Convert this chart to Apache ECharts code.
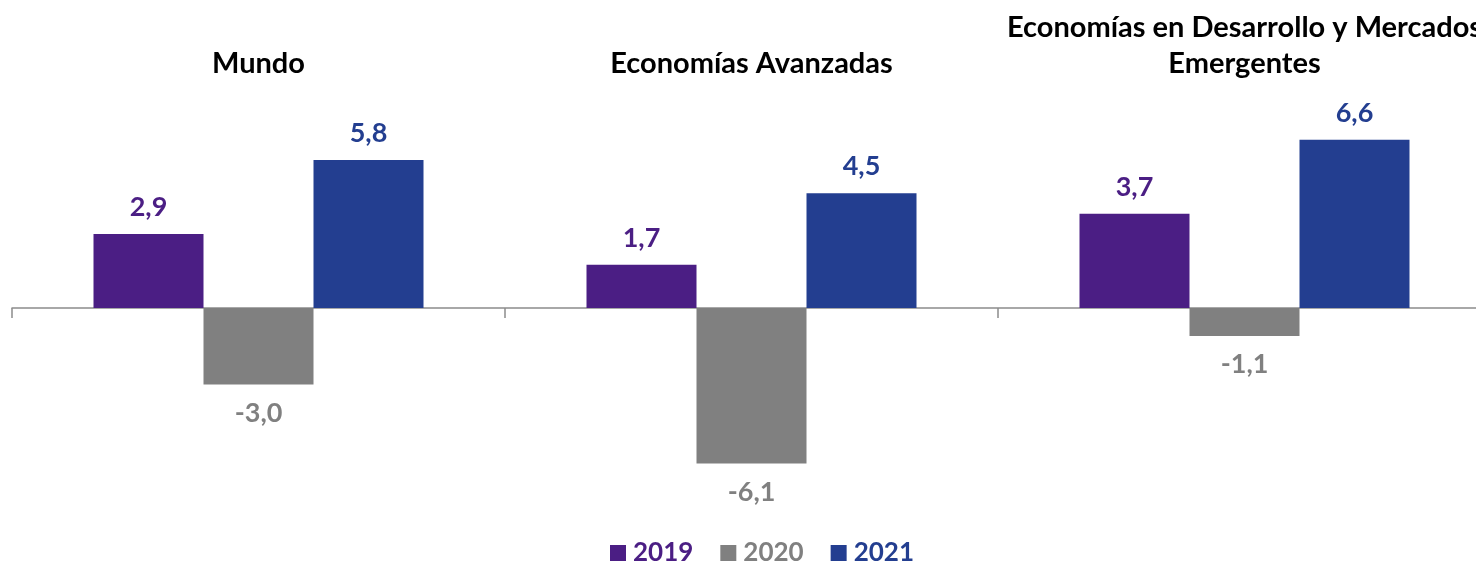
<!DOCTYPE html>
<html>
<head>
<meta charset="utf-8">
<script src="https://cdn.jsdelivr.net/npm/echarts@6/dist/echarts.min.js"></script>
<style>
  html, body { margin: 0; padding: 0; background: #fff; overflow: hidden; }
  /* the original plot runs past the right edge, so the canvas is a bit wider than the window */
  #chart { width: 1491px; height: 562px; }
</style>
</head>
<body>
<div id="chart"></div>
<script>
'use strict';

// data
const arrCategories = ['Mundo', 'Economías Avanzadas', 'Economías en Desarrollo y Mercados\nEmergentes'];
const arrYears = ['2019', '2020', '2021'];
const arr2019 = [2.9, 1.7, 3.7];
const arr2020 = [-3.0, -6.1, -1.1];
const arr2021 = [5.8, 4.5, 6.6];
const arrColors = ['#4b1e84', '#808080', '#233e90'];

const chart = echarts.init(document.getElementById('chart'));
const strFont = 'Lato, "Liberation Sans", sans-serif';

const fmtValue = (p) => p.value.toFixed(1).replace('.', ',');

const makeSeries = (name, values, color) => ({
    name: name,
    type: 'bar',
    barWidth: 110,
    barGap: '0%',
    xAxisIndex: 0,
    itemStyle: { color: color },
    label: {
        show: true,
        position: 'top',
        distance: 13,
        color: color,
        fontFamily: strFont,
        fontWeight: 'bold',
        fontSize: 27,
        formatter: fmtValue
    },
    data: values.map(v => v < 0 ? { value: v, label: { position: 'bottom', distance: 15 } } : v)
});

const option = {
    animation: false,
    backgroundColor: '#fff',
    grid: {
        left: 12,
        right: 0,
        top: 104,
        bottom: 50
    },
    legend: {
        top: 535,
        left: 605,
        icon: 'rect',
        itemWidth: 16,
        itemHeight: 16,
        itemGap: 27,
        data: arrYears.map((y, i) => ({
            name: y,
            textStyle: { color: arrColors[i] }
        })),
        textStyle: {
            fontFamily: strFont,
            fontWeight: 'bold',
            fontSize: 26,
            padding: [0, 0, 0, 2]
        }
    },
    xAxis: [{
        type: 'category',
        data: arrCategories,
        position: 'bottom',
        axisLine: { onZero: true, lineStyle: { color: '#8c8c8c', width: 1.5 } },
        axisTick: { show: true, length: 10, lineStyle: { color: '#8c8c8c', width: 1.5 } },
        axisLabel: { show: false }
    }, {
        type: 'category',
        data: arrCategories,
        position: 'top',
        axisLine: { show: false, onZero: false },
        axisTick: { show: false },
        axisLabel: {
            interval: 0,
            margin: 22,
            color: '#000',
            fontFamily: strFont,
            fontWeight: 'bold',
            fontSize: 29,
            lineHeight: 36
        }
    }],
    yAxis: {
        type: 'value',
        min: -8,
        max: 8,
        show: false,
        splitLine: { show: false }
    },
    series: [
        makeSeries(arrYears[0], arr2019, arrColors[0]),
        makeSeries(arrYears[1], arr2020, arrColors[1]),
        makeSeries(arrYears[2], arr2021, arrColors[2])
    ]
};

chart.setOption(option);
</script>
</body>
</html>
